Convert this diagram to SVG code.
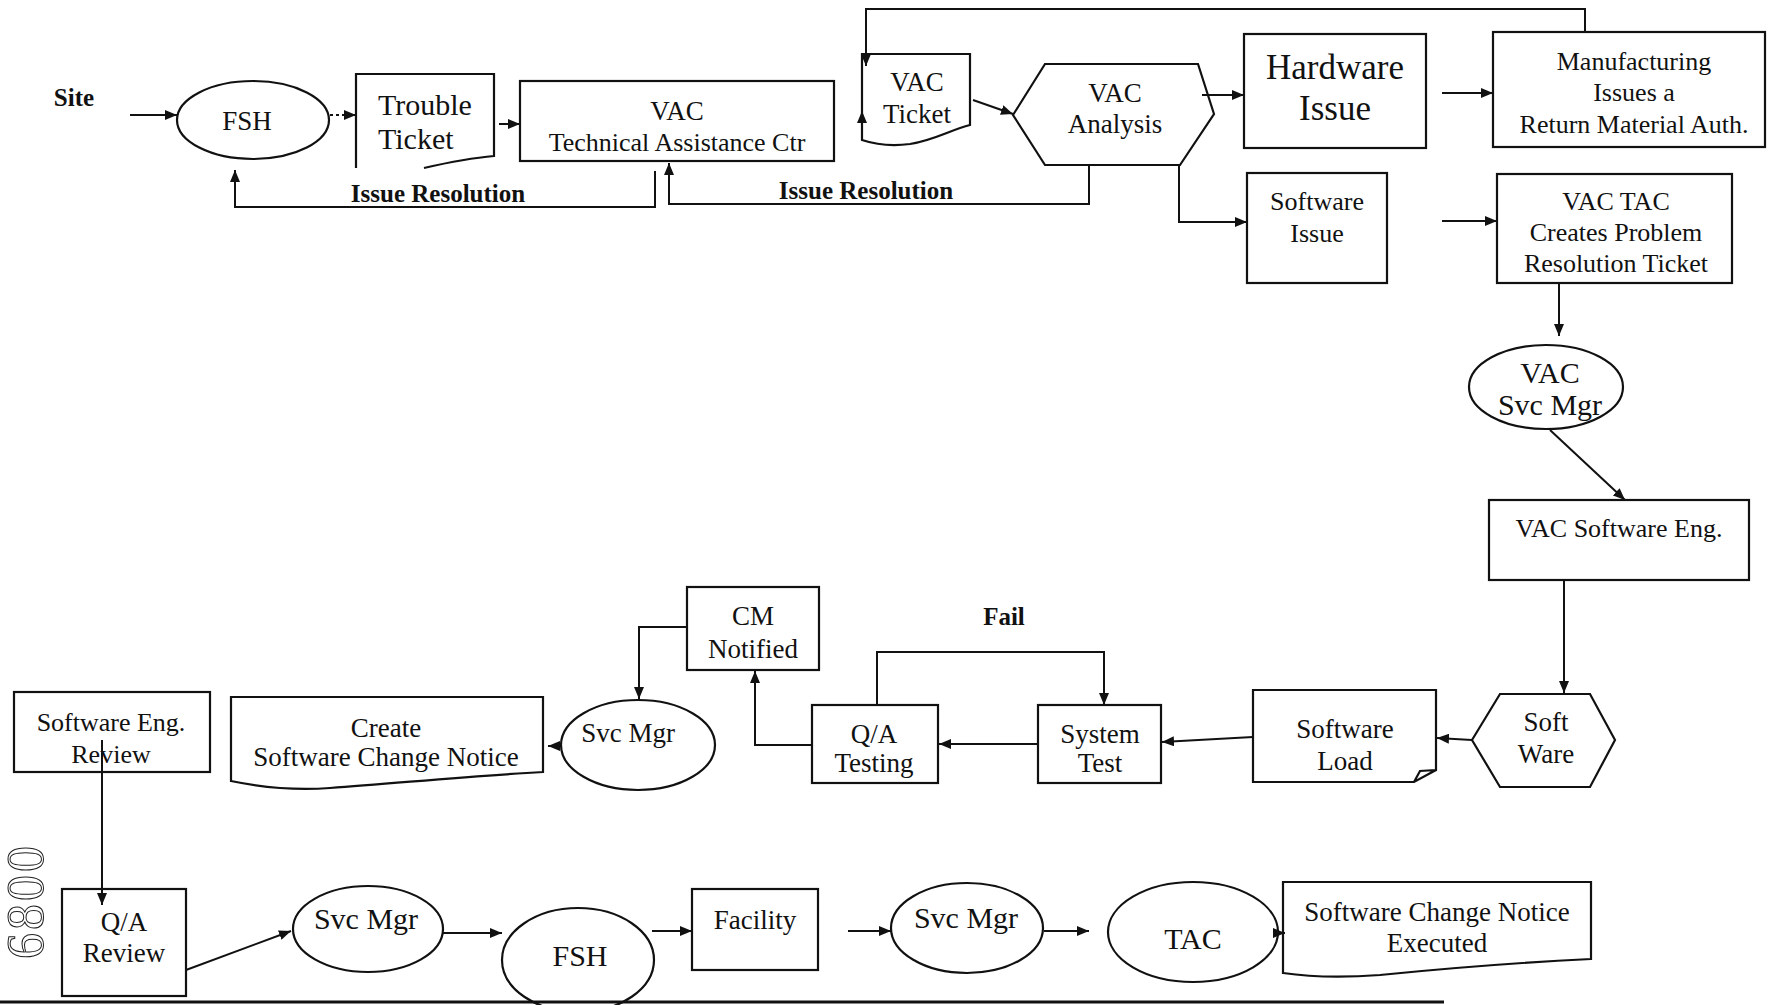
<svg xmlns="http://www.w3.org/2000/svg" width="1769" height="1005" viewBox="0 0 1769 1005">
<style>
  .s{fill:none;stroke:#111;stroke-width:2.2}
  .c{fill:none;stroke:#111;stroke-width:2}
  text{font-family:"Liberation Serif","Times New Roman",serif;fill:#111;text-anchor:middle}
  .t27{font-size:27px}
  .t26{font-size:26px}
  .t30{font-size:30px}
  .t35{font-size:35px}
  .b{font-weight:bold;font-size:25px}
</style>
<defs>
  <marker id="ah" viewBox="0 0 12 10" refX="12" refY="5" markerWidth="12" markerHeight="10" orient="auto" markerUnits="userSpaceOnUse">
    <path d="M0,0 L12,5 L0,10 z" fill="#111"/>
  </marker>
</defs>
<rect width="1769" height="1005" fill="#fff"/>

<g id="connectors">
  <path class="c" d="M130,115 H177" marker-end="url(#ah)"/>
  <path class="c" d="M330,115 H356" stroke-dasharray="3,3" marker-end="url(#ah)"/>
  <path class="c" d="M499,124 H520" marker-end="url(#ah)"/>
  <path class="c" d="M973,100 L1013,114" marker-end="url(#ah)"/>
  <path class="c" d="M1585,32 V9 H866 V66" marker-end="url(#ah)"/>
  <path class="c" d="M862,126 V111" marker-end="url(#ah)"/>
  <path class="c" d="M655,171 V207 H235 V170" marker-end="url(#ah)"/>
  <path class="c" d="M1089,165 V204 H669 V163" marker-end="url(#ah)"/>
  <path class="c" d="M1202,95 H1244" marker-end="url(#ah)"/>
  <path class="c" d="M1442,93 H1493" marker-end="url(#ah)"/>
  <path class="c" d="M1179,165 V222 H1247" marker-end="url(#ah)"/>
  <path class="c" d="M1442,221 H1497" marker-end="url(#ah)"/>
  <path class="c" d="M1559,283 V336" marker-end="url(#ah)"/>
  <path class="c" d="M1550,430 L1625,500" marker-end="url(#ah)"/>
  <path class="c" d="M1564,580 V693" marker-end="url(#ah)"/>
  <path class="c" d="M1472,740 L1437,738" marker-end="url(#ah)"/>
  <path class="c" d="M1253,737 L1162,742" marker-end="url(#ah)"/>
  <path class="c" d="M1038,744 H939" marker-end="url(#ah)"/>
  <path class="c" d="M877,705 V652 H1104 V705" marker-end="url(#ah)"/>
  <path class="c" d="M812,745 H755 V671" marker-end="url(#ah)"/>
  <path class="c" d="M687,627 H639 V699" marker-end="url(#ah)"/>
  <path class="c" d="M562,746 L548,746" marker-end="url(#ah)"/>
  <path class="c" d="M102,740 V905" marker-end="url(#ah)"/>
  <path class="c" d="M186,970 L291,931" marker-end="url(#ah)"/>
  <path class="c" d="M443,933 H502" marker-end="url(#ah)"/>
  <path class="c" d="M652,931 H692" marker-end="url(#ah)"/>
  <path class="c" d="M848,931 H891" marker-end="url(#ah)"/>
  <path class="c" d="M1044,931 H1089" marker-end="url(#ah)"/>
  <path class="c" d="M1276,933 H1285" marker-end="url(#ah)"/>
</g>

<g id="site"><text x="74" y="106" class="b">Site</text></g>

<g id="fsh-top">
  <ellipse class="s" cx="253" cy="120" rx="76" ry="39"/>
  <text x="247" y="130" class="t27">FSH</text>
</g>

<g id="trouble-ticket">
  <path class="s" d="M356,168 V74 H494 V156 C470,158 450,162 424,168"/>
  <text x="378" y="115" class="t30" style="text-anchor:start">Trouble</text>
  <text x="378" y="149" class="t30" style="text-anchor:start">Ticket</text>
</g>

<g id="vac-tac">
  <rect class="s" x="520" y="81" width="314" height="80"/>
  <text x="677" y="120" class="t27">VAC</text>
  <text x="677" y="151" class="t26">Technical Assistance Ctr</text>
</g>

<g id="vac-ticket">
  <path class="s" d="M862,140 V54 H970 V125 C950,130 935,140 910,144 C895,146 880,146 862,140 Z"/>
  <text x="917" y="91" class="t27">VAC</text>
  <text x="917" y="123" class="t27">Ticket</text>
</g>

<g id="vac-analysis">
  <polygon class="s" points="1013,115 1045,64 1198,64 1214,114 1180,165 1045,165"/>
  <text x="1115" y="102" class="t27">VAC</text>
  <text x="1115" y="133" class="t27">Analysis</text>
</g>

<g id="issue-res-1"><text x="438" y="202" class="b">Issue Resolution</text></g>
<g id="issue-res-2"><text x="866" y="199" class="b">Issue Resolution</text></g>

<g id="hardware-issue">
  <rect class="s" x="1244" y="34" width="182" height="114"/>
  <text x="1335" y="79" class="t35">Hardware</text>
  <text x="1335" y="120" class="t35">Issue</text>
</g>

<g id="manufacturing">
  <rect class="s" x="1493" y="32" width="272" height="115"/>
  <text x="1634" y="70" class="t26">Manufacturing</text>
  <text x="1634" y="101" class="t26">Issues a</text>
  <text x="1634" y="133" class="t26">Return Material Auth.</text>
</g>

<g id="software-issue">
  <rect class="s" x="1247" y="173" width="140" height="110"/>
  <text x="1317" y="210" class="t26">Software</text>
  <text x="1317" y="242" class="t26">Issue</text>
</g>

<g id="vac-tac-prt">
  <rect class="s" x="1497" y="174" width="235" height="109"/>
  <text x="1616" y="210" class="t26">VAC TAC</text>
  <text x="1616" y="241" class="t26">Creates Problem</text>
  <text x="1616" y="272" class="t26">Resolution Ticket</text>
</g>

<g id="vac-svc-mgr">
  <ellipse class="s" cx="1546" cy="387" rx="77" ry="42"/>
  <text x="1550" y="383" class="t30">VAC</text>
  <text x="1550" y="415" class="t30">Svc Mgr</text>
</g>

<g id="vac-sw-eng">
  <rect class="s" x="1489" y="500" width="260" height="80"/>
  <text x="1619" y="537" class="t26">VAC Software Eng.</text>
</g>

<g id="soft-ware">
  <polygon class="s" points="1472,740 1500,694 1590,694 1615,740 1590,787 1500,787"/>
  <text x="1546" y="731" class="t27">Soft</text>
  <text x="1546" y="763" class="t27">Ware</text>
</g>

<g id="software-load">
  <path class="s" d="M1253,690 H1436 V770 L1414,782 H1253 Z M1414,782 L1420,771 L1436,770"/>
  <text x="1345" y="738" class="t27">Software</text>
  <text x="1345" y="770" class="t27">Load</text>
</g>

<g id="system-test">
  <rect class="s" x="1038" y="705" width="123" height="78"/>
  <text x="1100" y="743" class="t27">System</text>
  <text x="1100" y="772" class="t27">Test</text>
</g>

<g id="fail"><text x="1004" y="625" class="b">Fail</text></g>

<g id="qa-testing">
  <rect class="s" x="812" y="705" width="126" height="78"/>
  <text x="874" y="743" class="t27">Q/A</text>
  <text x="874" y="772" class="t27">Testing</text>
</g>

<g id="cm-notified">
  <rect class="s" x="687" y="587" width="132" height="83"/>
  <text x="753" y="625" class="t27">CM</text>
  <text x="753" y="658" class="t27">Notified</text>
</g>

<g id="svc-mgr-mid">
  <ellipse class="s" cx="638" cy="745" rx="77" ry="45"/>
  <text x="628" y="742" class="t27">Svc Mgr</text>
</g>

<g id="create-scn">
  <path class="s" d="M231,697 H543 V772 C470,776 400,783 330,788 C290,791 260,787 231,781 Z"/>
  <text x="386" y="737" class="t27">Create</text>
  <text x="386" y="766" class="t27">Software Change Notice</text>
</g>

<g id="sw-eng-review">
  <rect class="s" x="14" y="692" width="196" height="80"/>
  <text x="111" y="731" class="t26">Software Eng.</text>
  <text x="111" y="763" class="t26">Review</text>
</g>

<g id="qa-review">
  <rect class="s" x="62" y="889" width="124" height="107"/>
  <text x="124" y="931" class="t27">Q/A</text>
  <text x="124" y="962" class="t27">Review</text>
</g>

<g id="svc-mgr-1">
  <ellipse class="s" cx="368" cy="929" rx="75" ry="43"/>
  <text x="366" y="929" class="t30">Svc Mgr</text>
</g>

<g id="fsh-bottom">
  <ellipse class="s" cx="578" cy="960" rx="76" ry="52"/>
  <text x="580" y="966" class="t30">FSH</text>
</g>

<g id="facility">
  <rect class="s" x="692" y="889" width="126" height="81"/>
  <text x="755" y="929" class="t27">Facility</text>
</g>

<g id="svc-mgr-2">
  <ellipse class="s" cx="967" cy="928" rx="76" ry="45"/>
  <text x="966" y="928" class="t30">Svc Mgr</text>
</g>

<g id="tac">
  <ellipse class="s" cx="1193" cy="932" rx="85" ry="50"/>
  <text x="1193" y="949" class="t30">TAC</text>
</g>

<g id="scn-executed">
  <path class="s" d="M1283,973 V882 H1591 V959 C1530,962 1450,968 1380,975 C1340,978 1310,977 1283,973 Z"/>
  <text x="1437" y="921" class="t27">Software Change Notice</text>
  <text x="1437" y="952" class="t27">Executed</text>
</g>

<g id="page-marks">
  <line x1="0" y1="1002" x2="1444" y2="1002" stroke="#111" stroke-width="3"/>
  <text transform="translate(43,901) rotate(-90)" style="font-size:52px;letter-spacing:3px;fill:none;stroke:#222;stroke-width:1">6800</text>
</g>
</svg>
